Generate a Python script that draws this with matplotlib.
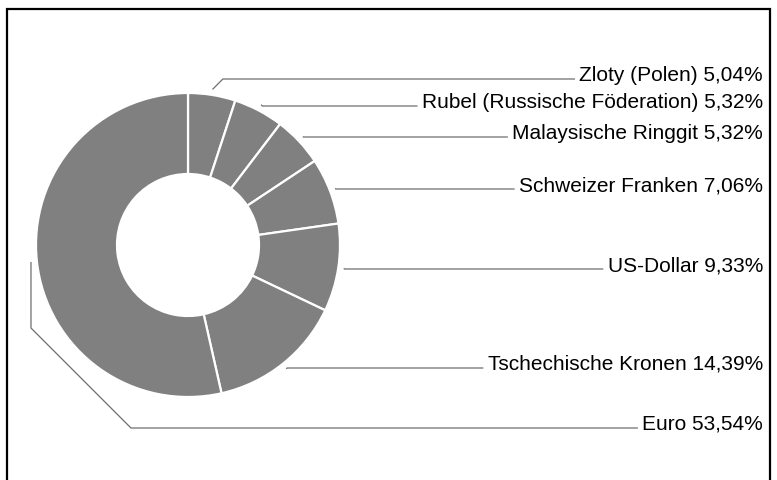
"""Donut chart of currency shares with leader-line labels."""
import numpy as np
import matplotlib
matplotlib.use("Agg")
import matplotlib.pyplot as plt
from matplotlib.patches import Rectangle

labels = ["Zloty (Polen)", "Rubel (Russische Föderation)", "Malaysische Ringgit",
          "Schweizer Franken", "US-Dollar", "Tschechische Kronen", "Euro"]
shares = [5.04, 5.32, 5.32, 7.06, 9.33, 14.39, 53.54]
share_text = ["5,04%", "5,32%", "5,32%", "7,06%", "9,33%", "14,39%", "53,54%"]

W, H = 777, 481
# label line heights (pixel rows from the top of the image)
label_rows = [80, 107, 138, 190, 270, 369, 429]

plt.rcParams["font.family"] = ["Liberation Sans", "DejaVu Sans"]

fig = plt.figure(figsize=(W / 100, H / 100), dpi=100)
ax = fig.add_axes([0, 0, 1, 1])
ax.set_xlim(0, W)
ax.set_ylim(0, H)
ax.axis("off")

cx, cy = 188, H - 246
r_out, r_in = 152, 71

ax.pie(shares, center=(cx, cy), radius=r_out, startangle=90, counterclock=False,
       colors=["#808080"] * len(shares),
       wedgeprops=dict(width=r_out - r_in, edgecolor="white", linewidth=1.6))
ax.set_xlim(0, W)
ax.set_ylim(0, H)

# frame (bottom edge lies outside the image)
ax.add_patch(Rectangle((7, -20), 763, H - 10 + 20, fill=False, edgecolor="black",
                       linewidth=1.6, clip_on=False))

fig.canvas.draw()
renderer = fig.canvas.get_renderer()

start = 0.0
for name, val, pct, row in zip(labels, shares, share_text, label_rows):
    mid = np.deg2rad(90 - (start + val / 2) * 3.6)
    start += val
    ax0 = cx + 158 * np.cos(mid)
    ay0 = cy + 158 * np.sin(mid)
    ly = H - row
    txt = ax.text(763, ly - 1, f"{name} {pct}", ha="right", va="baseline",
                  fontsize=15, color="black")
    bb = txt.get_window_extent(renderer).transformed(ax.transData.inverted())
    x_end = bb.x0 - 5
    if ax0 < cx:
        # goes around the left side of the donut
        drop = 100
        xs = [ax0, ax0, ax0 + drop, x_end]
        ys = [ay0, ly + drop, ly, ly]
    else:
        dy = ly - ay0
        xs = [ax0, ax0 + abs(dy), x_end]
        ys = [ay0, ly, ly]
    ax.plot(xs, ys, color="#6e6e6e", linewidth=0.9, solid_joinstyle="miter")

fig.savefig("out.png", dpi=100)
